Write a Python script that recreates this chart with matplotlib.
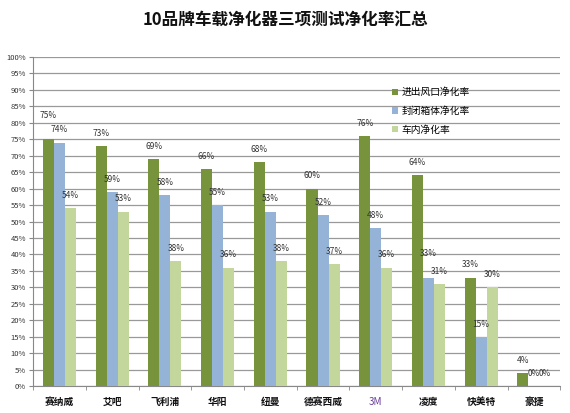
import numpy as np
import matplotlib.pyplot as plt

plt.rcParams['font.family'] = ['Noto Sans CJK SC', 'DejaVu Sans']

brands = ["赛纳威", "艾吧", "飞利浦", "华阳", "纽曼", "德赛西威", "3M", "凌度", "快美特", "豪捷"]
vent = [75, 73, 69, 66, 68, 60, 76, 64, 33, 4]
sealed = [74, 59, 58, 55, 53, 52, 48, 33, 15, 0]
cabin = [54, 53, 38, 36, 38, 37, 36, 31, 30, 0]
series_names = ["进出风口净化率", "封闭箱体净化率", "车内净化率"]
colors = ["#77933C", "#95B3D7", "#C3D69B"]

fig = plt.figure(figsize=(5.7, 4.13), dpi=100)
ax = fig.add_axes([0.058, 0.065, 0.925, 0.797])

x = np.arange(len(brands))
w = 0.21
all_vals = [vent, sealed, cabin]
for i, (vals, name, c) in enumerate(zip(all_vals, series_names, colors)):
    pos = x + (i - 1) * w
    ax.bar(pos, vals, w, color=c, label=name, zorder=3)
    for j, (p, v) in enumerate(zip(pos, vals)):
        lift = 2.5
        # raise a label when the next bar in the group is nearly as tall
        if i < 2 and v > 0 and abs(v - all_vals[i + 1][j]) < 4:
            lift += 3.5
        ax.text(p, v + lift, f"{v}%", ha="center", va="bottom", fontsize=6,
                color="#333333", zorder=4)

ax.set_xlim(-0.5, len(brands) - 0.5)
ax.set_ylim(0, 100)
ax.set_yticks(np.arange(0, 101, 5))
ax.set_yticklabels([f"{t}%" for t in range(0, 101, 5)], fontsize=5.5, color="#333333")
ax.yaxis.grid(True, color="#999999", linewidth=0.9, zorder=0)
ax.set_xticks(x)
ax.set_xticklabels(brands, fontsize=7, color="#111111", fontweight="bold")
ax.get_xticklabels()[6].set_color("#6A3D9A")
ax.get_xticklabels()[6].set_fontweight("normal")
ax.set_xticks(np.arange(-0.5, len(brands)), minor=True)
ax.tick_params(axis="x", which="major", length=0, pad=8)
ax.tick_params(axis="x", which="minor", length=3, color="#888888")
ax.tick_params(axis="y", length=3, color="#888888", pad=2)
for s in ["top", "right"]:
    ax.spines[s].set_visible(False)
ax.spines["left"].set_color("#888888")
ax.spines["bottom"].set_color("#888888")

ax.legend(loc="upper left", bbox_to_anchor=(0.665, 0.935), frameon=False, fontsize=7,
          handlelength=0.6, handleheight=0.6, handletextpad=0.3, labelspacing=0.9)

fig.text(0.5, 0.953, "10品牌车载净化器三项测试净化率汇总", ha="center", va="center",
         fontsize=12, color="#111111", fontweight="bold")

fig.savefig("out.png", dpi=100)
